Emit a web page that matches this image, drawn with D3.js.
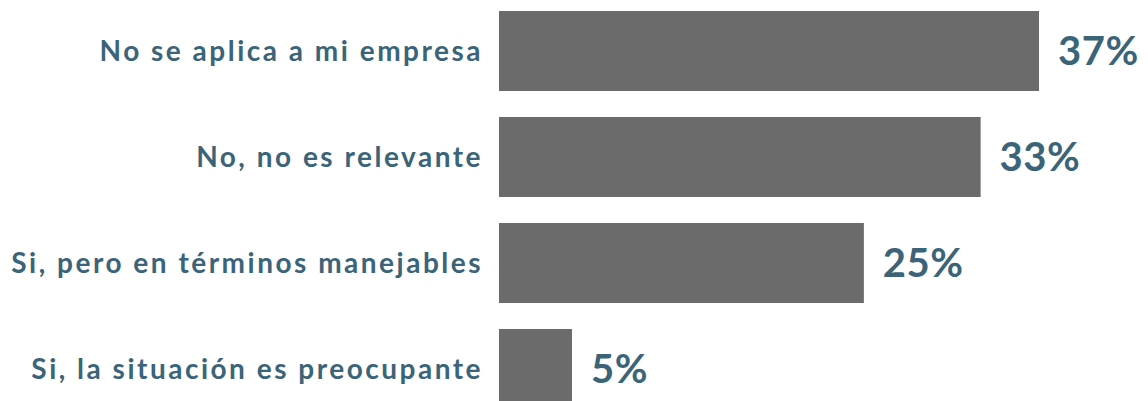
<!DOCTYPE html>
<html>
  <head>
    <meta charset="utf-8">
    <title>Bar chart</title>
    <style>
      body { margin: 0; background: #fff; }
      .label { font-family: Lato, sans-serif; font-weight: 700; fill: #3b6479; }
      .cat { font-size: 28px; letter-spacing: 2.5px; }
      .val { font-size: 40px; letter-spacing: 0.5px; }
      .bar { fill: #6b6b6b; }
    </style>
    <script src="https://cdnjs.cloudflare.com/ajax/libs/d3/7.8.5/d3.min.js"></script>
  </head>
  <body>
  <script type="text/javascript">
    // data
    var categories = ["No se aplica a mi empresa", "No, no es relevante", "Si, pero en términos manejables", "Si, la situación es preocupante"];
    var values = [37, 33, 25, 5];
    var valueLabels = ["37%", "33%", "25%", "5%"];

    var width = 1148;
    var height = 401;

    var svg = d3.select("body")
                .append("svg")
                .attr("width", width)
                .attr("height", height);

    // x: percent -> pixels, bars start at 499
    var x = d3.scaleLinear()
        .domain([0, 37])
        .range([499, 1039]);

    // bands of 106px, bar height 80
    var y = d3.scaleBand()
        .domain(categories)
        .range([11 - 13, 11 - 13 + 106 * 4])
        .paddingInner(26 / 106)
        .paddingOuter(13 / 106);

    var data = categories.map(function(c, i){
      return { cat: c, v: values[i], lab: valueLabels[i] };
    });

    svg.selectAll("rect")
       .data(data)
       .enter()
       .append("rect")
         .attr("class", "bar")
         .attr("x", x(0))
         .attr("y", function(d){ return y(d.cat); })
         .attr("width", function(d){ return x(d.v) - x(0); })
         .attr("height", y.bandwidth());

    // letter-spacing adds a trailing gap, so pull the anchor right a bit
    svg.selectAll(".cat")
       .data(data)
       .enter()
       .append("text")
         .attr("class", "label cat")
         .attr("x", x(0) - 16)
         .attr("y", function(d){ return y(d.cat) + y.bandwidth() / 2; })
         .attr("dy", "0.35em")
         .attr("text-anchor", "end")
         .text(function(d){ return d.cat; });

    svg.selectAll(".val")
       .data(data)
       .enter()
       .append("text")
         .attr("class", "label val")
         .attr("x", function(d){ return x(d.v) + 19; })
         .attr("y", function(d){ return y(d.cat) + y.bandwidth() / 2; })
         .attr("dy", "0.36em")
         .text(function(d){ return d.lab; });
  </script>
  </body>
</html>
